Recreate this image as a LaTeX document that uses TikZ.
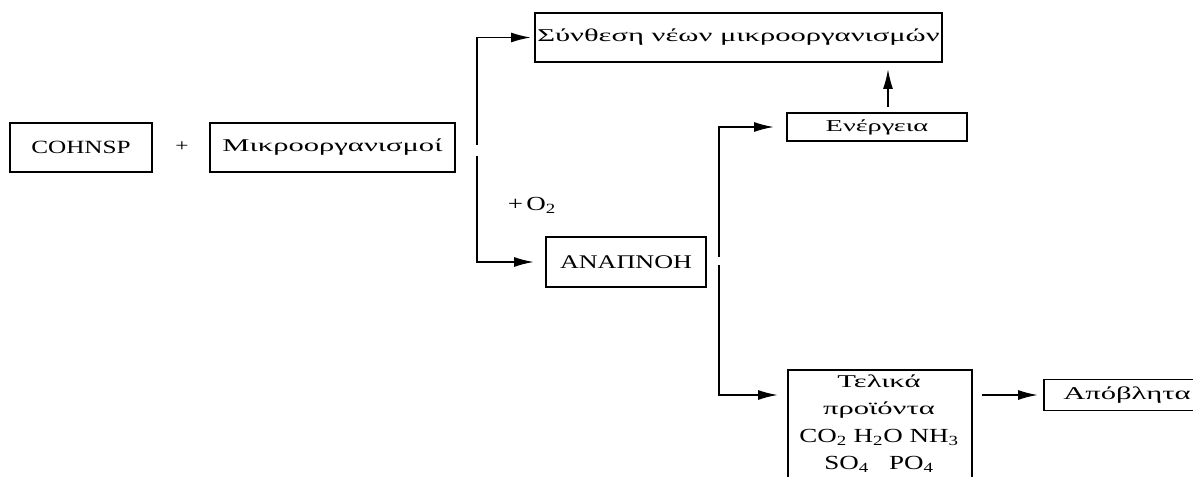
\documentclass[tikz,border=0pt]{standalone}
\usepackage{fontspec}
\setmainfont{Liberation Serif}[FakeStretch=1.35]
\newfontfamily\gk{Liberation Serif}[FakeStretch=1.7]
\usetikzlibrary{arrows.meta,calc}
\def\px{0.75pt}
\begin{document}
\begin{tikzpicture}[x=0.75pt,y=-0.75pt, line width=1.4pt,
  box/.style={draw, inner sep=0pt, font=\fontsize{13.5}{16}\selectfont},
  gkbox/.style={box, font=\gk\fontsize{13.5}{16}\selectfont},
  txt/.style={inner sep=0pt, font=\fontsize{15}{19}\selectfont},
  arr/.style={-{Latex[length=15pt,width=7.5pt]}}]
\useasboundingbox (0,0) rectangle (1193,477);
\node[box, font=\fontsize{14}{16}\selectfont, minimum width=142*\px, minimum height=49*\px] (cohnsp) at (81,147.5) {COHNSP};
\node[txt, font=\fontsize{13}{16}\selectfont] (plus) at (182,147) {+};
\node[gkbox, minimum width=245*\px, minimum height=49*\px] (micro) at (332.5,147.5) {Μικροοργανισμοί};
\node[gkbox, minimum width=407*\px, minimum height=49*\px] (synth) at (738.5,37.5) {Σύνθεση νέων μικροοργανισμών};
\node[gkbox, font=\gk\fontsize{12.5}{16}\selectfont, minimum width=180*\px, minimum height=28*\px] (energy) at (877,127) {Ενέργεια};
\node[box, font=\fontsize{14.5}{16}\selectfont, minimum width=160*\px, minimum height=50*\px] (anap) at (626,262) {ΑΝΑΠΝΟΗ};
\node[txt] (o2) at (532,205) {+\,O\textsubscript{2}};
\node[draw, anchor=north west, minimum width=184*\px, minimum height=120*\px, inner sep=0pt] (final) at (787,369) {};
\node[txt, font=\gk\fontsize{13.5}{20.5}\selectfont, anchor=north, align=center] (finaltxt) at (879,374) {Τελικά\\προϊόντα\\\rmfamily\fontsize{15}{20}\selectfont CO\textsubscript{2} H\textsubscript{2}O NH\textsubscript{3}\\\rmfamily\fontsize{15}{20}\selectfont SO\textsubscript{4}\quad PO\textsubscript{4}};
\node[gkbox, font=\gk\fontsize{13.5}{16}\selectfont, anchor=west, minimum width=166*\px, minimum height=31*\px] (waste) at (1043,395) {Απόβλητα};
\coordinate (j1a) at (477,145);
\coordinate (j1b) at (477,156);
\coordinate (j2a) at (719,257);
\coordinate (j2b) at (719,265);
\coordinate (eup) at ($(energy.north)+(11,0)$);
\draw[arr, shorten >=3*\px] (j1a) |- (synth.west);
\draw[arr, shorten >=11*\px] (j1b) |- (anap.west);
\draw[arr, shorten >=12*\px] (j2a) |- (energy.west);
\draw[arr, shorten >=9*\px] (j2b) |- ($(final.north west)+(0,26)$);
\draw[arr, shorten <=9*\px, shorten >=5*\px] ($(final.north east)+(0,26)$) -- (waste.west);
\draw[arr, shorten <=5*\px, shorten >=6*\px] (eup) -- (eup |- synth.south);
\end{tikzpicture}
\end{document}
